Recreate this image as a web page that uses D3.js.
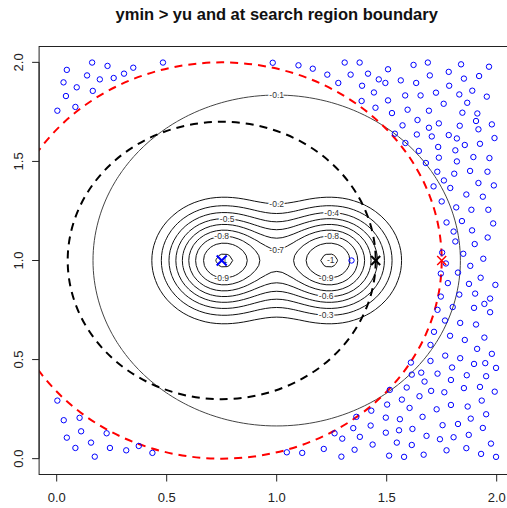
<!DOCTYPE html>
<html>
<head>
<meta charset="utf-8">
<script src="https://cdn.jsdelivr.net/npm/d3@7"></script>
<style>
  body { margin: 0; background: #fff; }
  text { font-family: "Liberation Sans", Arial, sans-serif; }
</style>
</head>
<body>
<svg id="chart"></svg>
<script>
const title = "ymin > yu and at search region boundary";
const xTicks = [0, 0.5, 1, 1.5, 2];
const yTicks = [0, 0.5, 1, 1.5, 2];
const levels = [-1, -0.9, -0.8, -0.7, -0.6, -0.5, -0.4, -0.3, -0.2, -0.1];

// two wells of the test surface and the broad shallow basin around them
const wells = [[0.75, 1], [1.25, 1]];
const wellSharpness = 16;
const basin = { cx: 1, cy: 1, depth: 0.15, r01: 0.835 };

// search region (red) and trust region (black) around the current centre
const centre = [0.75, 1];
const searchRadius = 1;
const trustRadius = 0.7;

const bestPoint = [0.75, 1];
const trustPoint = [1.45, 1];
const boundPoint = [1.75, 1];
const probePoint = [1.34, 1.0];

// where R put the contour labels (approximate spots, snapped to the line)
const labelSpots = [
  [-0.1, 0.99, 1.84], [-0.2, 0.99, 1.29], [-0.3, 1.23, 0.73], [-0.4, 1.25, 1.24],
  [-0.5, 0.77, 1.21], [-0.6, 1.23, 0.83], [-0.7, 1.0, 1.07],
  [-0.8, 0.76, 1.11], [-0.8, 1.245, 1.11], [-0.9, 0.755, 0.92], [-0.9, 1.23, 0.915],
  [-1, 0.76, 1.02], [-1, 1.235, 1.02]
];

// design points outside the search region
const samples = [
  [0.046,1.962],[0.161,1.999],[0.231,1.982],[0.138,1.934],[0.196,1.914],[0.259,1.921],[0.306,1.943],[0.348,1.973],[0.483,1.999],[0.031,1.899],[0.091,1.874],[0.164,1.856],[0.042,1.830],[0.085,1.775],[0.003,1.756],
  [0.982,1.998],[1.099,1.985],[1.164,1.968],[1.230,1.938],[1.309,1.999],[1.377,1.999],[1.336,1.938],[1.415,1.943],[1.280,1.896],[1.388,1.882],[1.442,1.848],[1.386,1.805],[1.449,1.771],
  [1.506,1.965],[1.622,1.987],[1.687,1.999],[1.838,1.990],[1.965,1.978],[1.464,1.914],[1.494,1.896],[1.564,1.909],[1.634,1.896],[1.696,1.934],[1.782,1.952],[1.851,1.918],[1.920,1.931],[1.584,1.833],[1.654,1.833],[1.724,1.847],[1.784,1.882],[1.830,1.838],[1.889,1.857],[1.955,1.827],[1.506,1.808],[1.524,1.744],[1.595,1.761],[1.692,1.756],[1.759,1.791],[1.866,1.796],[1.844,1.746],[1.912,1.742],[1.572,1.682],[1.640,1.709],[1.692,1.670],[1.737,1.692],[1.832,1.680],[1.906,1.704],[1.917,1.662],[1.978,1.687],[1.537,1.640],[1.585,1.593],[1.637,1.636],[1.705,1.626],[1.782,1.633],[1.819,1.616],[1.855,1.583],[1.924,1.589],[1.990,1.618],[1.646,1.553],[1.734,1.573],[1.812,1.556],[1.737,1.519],[1.819,1.500],[1.894,1.522],[1.967,1.517],[1.678,1.492],[1.730,1.448],[1.807,1.438],[1.879,1.452],[1.958,1.448],
  [1.713,1.374],[1.760,1.404],[1.789,1.366],[1.917,1.391],[1.987,1.379],[1.750,1.298],[1.862,1.333],[1.937,1.322],[1.816,1.268],[1.885,1.256],[1.962,1.256],[1.772,1.192],[1.842,1.199],[1.984,1.187],[1.804,1.146],[1.888,1.152],[1.812,1.096],[1.900,1.083],[1.959,1.116],[1.752,1.040],[1.769,0.985],[1.848,1.034],[1.939,1.009],[1.746,0.934],[1.824,0.939],[1.880,0.973],[1.778,0.886],[1.874,0.882],[1.927,0.913],[1.994,0.877],[1.746,0.818],[1.830,0.828],[1.902,0.833],[1.970,0.808],[1.731,0.751],[1.800,0.765],[1.897,0.761],[1.944,0.781],[1.970,0.739],[1.765,0.697],[1.834,0.685],[1.906,0.677],
  [1.715,0.640],[1.788,0.620],[1.855,0.599],[1.944,0.611],[1.699,0.574],[1.911,0.554],[1.978,0.529],[1.766,0.520],[1.834,0.507],[1.699,0.493],[1.610,0.485],[1.897,0.478],[1.948,0.482],[1.997,0.458],[1.797,0.460],[1.614,0.424],[1.657,0.434],[1.731,0.429],[1.864,0.421],[1.952,0.416],[1.672,0.389],[1.792,0.397],[1.514,0.347],[1.591,0.359],[1.702,0.342],[1.762,0.335],[1.851,0.356],[1.924,0.362],[1.991,0.338],[1.569,0.298],[1.649,0.315],[1.502,0.273],[1.604,0.256],[1.727,0.249],[1.792,0.271],[1.868,0.263],[1.932,0.293],[1.430,0.242],[1.496,0.207],[1.560,0.199],[1.663,0.211],[1.824,0.175],[1.882,0.202],[1.952,0.224],[1.427,0.167],[1.496,0.131],[1.556,0.143],[1.617,0.150],[1.754,0.169],[1.681,0.115],[1.742,0.098],[1.804,0.108],[1.873,0.120],[1.937,0.155],[1.436,0.071],[1.546,0.081],[1.614,0.069],[1.974,0.076],[1.511,0.015],[1.579,0.009],[1.668,0.020],[1.772,0.042],[1.862,0.053],[1.929,0.024],[1.997,0.009],
  [1.046,0.032],[1.116,0.029],[1.214,0.049],[1.294,0.010],[1.354,0.045],[1.263,0.128],[1.298,0.101],[1.348,0.154],[1.378,0.110],[1.362,0.211],
  [0.003,0.293],[0.032,0.194],[0.104,0.206],[0.046,0.106],[0.111,0.138],[0.227,0.128],[0.156,0.081],[0.085,0.054],[0.242,0.054],[0.316,0.042],[0.373,0.064],[0.435,0.029],[0.173,0.010]
];

const wSvg = 507;
const hSvg = 508;

const x = d3.scaleLinear().domain([-0.08, 2.08]).range([39.1, 514.3]);
const y = d3.scaleLinear().domain([-0.08, 2.08]).range([474.5, 46.5]);

const svg = d3.select("#chart")
  .attr("width", wSvg)
  .attr("height", hSvg);

svg.append("defs").append("clipPath").attr("id", "box")
  .append("rect")
  .attr("x", x(-0.08)).attr("y", y(2.08))
  .attr("width", x(2.08) - x(-0.08)).attr("height", y(-0.08) - y(2.08));

// surface depth (negated so d3.contours gives closed blobs)
function depth(px, py) {
  let s = 0;
  for (let w of wells) {
    let d2 = (px - w[0]) ** 2 + (py - w[1]) ** 2;
    s += Math.exp(-wellSharpness * d2);
  }
  let r2 = ((px - basin.cx) ** 2 + (py - basin.cy) ** 2) / (basin.r01 ** 2);
  let b = basin.depth * Math.exp(-Math.log(basin.depth / 0.1) * r2);
  return Math.max(s, b);
}

const step = 0.025;
const n = Math.round(2 / step) + 1;
const grid = new Array(n * n);
for (let j = 0; j < n; j++) {
  for (let i = 0; i < n; i++) {
    grid[j * n + i] = depth(i * step, j * step);
  }
}

const contours = d3.contours()
  .size([n, n])
  .thresholds(levels.map(l => -l))(grid);

const toPx = (gx, gy) => [x((gx - 0.5) * step), y((gy - 0.5) * step)];
const path = d3.geoPath(d3.geoTransform({
  point: function (gx, gy) {
    const p = toPx(gx, gy);
    this.stream.point(p[0], p[1]);
  }
}));

const plot = svg.append("g").attr("clip-path", "url(#box)");

plot.append("g")
  .selectAll("path")
  .data(contours)
  .enter()
  .append("path")
  .attr("d", path)
  .attr("fill", "none")
  .attr("stroke", d => d.value < 0.15 ? "#444" : "#111")
  .attr("stroke-width", 1);

// contour labels, snapped to the nearest vertex of their own line
// (a loop too small to carry the text gets it over its middle, as R does)
const labels = plot.append("g");
for (let spot of labelSpots) {
  const c = contours.find(k => Math.abs(k.value + spot[0]) < 1e-9);
  if (!c) continue;
  const tx = x(spot[1]), ty = y(spot[2]);
  let best = null, bestD = Infinity, bestRing = null;
  for (let poly of c.coordinates) {
    for (let ring of poly) {
      for (let pt of ring) {
        const p = toPx(pt[0], pt[1]);
        const d = (p[0] - tx) ** 2 + (p[1] - ty) ** 2;
        if (d < bestD) { bestD = d; best = p; bestRing = ring; }
      }
    }
  }
  const pts = bestRing.map(pt => toPx(pt[0], pt[1]));
  const ext = d3.extent(pts, p => p[0]);
  if (ext[1] - ext[0] < 20) {
    best = [d3.mean(pts, p => p[0]), d3.mean(pts, p => p[1])];
  }
  labels.append("text")
    .attr("x", best[0])
    .attr("y", best[1] + 3)
    .attr("text-anchor", "middle")
    .attr("font-size", 8.5)
    .attr("fill", "#333")
    .attr("stroke", "#fff")
    .attr("stroke-width", 2.5)
    .attr("paint-order", "stroke")
    .text(String(spot[0]));
}

// trust region and search region circles
plot.append("ellipse")
  .attr("cx", x(centre[0])).attr("cy", y(centre[1]))
  .attr("rx", x(trustRadius) - x(0)).attr("ry", y(0) - y(trustRadius))
  .attr("fill", "none").attr("stroke", "#000")
  .attr("stroke-width", 2).attr("stroke-dasharray", "8,6");

plot.append("ellipse")
  .attr("cx", x(centre[0])).attr("cy", y(centre[1]))
  .attr("rx", x(searchRadius) - x(0)).attr("ry", y(0) - y(searchRadius))
  .attr("fill", "none").attr("stroke", "#f00")
  .attr("stroke-width", 2).attr("stroke-dasharray", "8,6");

// design points
plot.append("g")
  .selectAll("circle")
  .data(samples.concat([probePoint]))
  .enter()
  .append("circle")
  .attr("cx", d => x(d[0]))
  .attr("cy", d => y(d[1]))
  .attr("r", 2.7)
  .attr("fill", "none")
  .attr("stroke", "#00f")
  .attr("stroke-width", 1);

function cross(p, col, size, lw) {
  const cx = x(p[0]), cy = y(p[1]);
  plot.append("path")
    .attr("d", `M${cx - size},${cy - size}L${cx + size},${cy + size}M${cx - size},${cy + size}L${cx + size},${cy - size}`)
    .attr("stroke", col).attr("stroke-width", lw).attr("fill", "none");
}
cross(bestPoint, "#00f", 5, 2);
cross(trustPoint, "#000", 4.5, 2);
cross(boundPoint, "#f00", 4.5, 1.5);

// box and axes, R style
svg.append("rect")
  .attr("x", x(-0.08)).attr("y", y(2.08))
  .attr("width", x(2.08) - x(-0.08)).attr("height", y(-0.08) - y(2.08))
  .attr("fill", "none").attr("stroke", "#222").attr("stroke-width", 1);

const bottom = y(-0.08);
const left = x(-0.08);

const xa = svg.append("g");
xa.append("line")
  .attr("x1", x(0)).attr("x2", x(2)).attr("y1", bottom).attr("y2", bottom)
  .attr("stroke", "#222");
xa.selectAll("line.t").data(xTicks).enter().append("line")
  .attr("class", "t")
  .attr("x1", d => x(d)).attr("x2", d => x(d))
  .attr("y1", bottom).attr("y2", bottom + 7)
  .attr("stroke", "#222");
xa.selectAll("text").data(xTicks).enter().append("text")
  .attr("x", d => x(d)).attr("y", 502)
  .attr("text-anchor", "middle").attr("font-size", 13).attr("fill", "#222")
  .text(d => d.toFixed(1));

const ya = svg.append("g");
ya.append("line")
  .attr("x1", left).attr("x2", left).attr("y1", y(0)).attr("y2", y(2))
  .attr("stroke", "#222");
ya.selectAll("line.t").data(yTicks).enter().append("line")
  .attr("class", "t")
  .attr("x1", left - 7).attr("x2", left)
  .attr("y1", d => y(d)).attr("y2", d => y(d))
  .attr("stroke", "#222");
ya.selectAll("text").data(yTicks).enter().append("text")
  .attr("transform", d => `translate(23, ${y(d)}) rotate(-90)`)
  .attr("text-anchor", "middle").attr("font-size", 13).attr("fill", "#222")
  .text(d => d.toFixed(1));

svg.append("text")
  .attr("x", (x(-0.08) + x(2.08)) / 2)
  .attr("y", 20)
  .attr("text-anchor", "middle")
  .attr("font-size", 16.5)
  .attr("font-weight", "bold")
  .attr("fill", "#111")
  .text(title);
</script>
</body>
</html>
